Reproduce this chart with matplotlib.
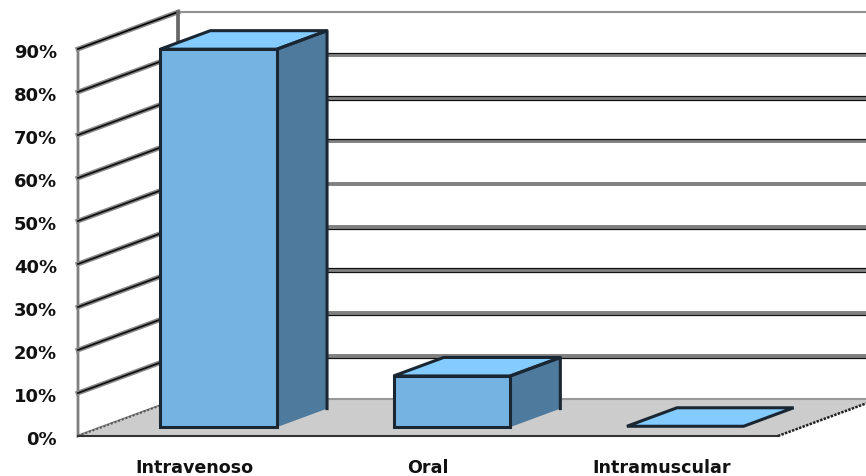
import matplotlib
matplotlib.use('Agg')
import matplotlib.pyplot as plt
from matplotlib.patches import Polygon

categories = ['Intravenoso', 'Oral', 'Intramuscular']
values = [87.9, 11.9, 0.2]
ticks = [0, 10, 20, 30, 40, 50, 60, 70, 80, 90]
tick_labels = ['0%', '10%', '20%', '30%', '40%', '50%', '60%', '70%', '80%', '90%']

# oblique projection: how far one full unit of depth moves a point
DEPTH_X = 0.429
DEPTH_Y = 8.6
BAR_WIDTH = 0.5
BAR_FRONT = 0.24
BAR_DEPTH = 0.5


def project(x, value, depth=0.0):
    return (x + depth * DEPTH_X, value + depth * DEPTH_Y)


def face(ax, corners, color, edge='#1a2733', lw=2.2, zorder=3):
    points = [project(*c) for c in corners]
    ax.add_patch(Polygon(points, closed=True, facecolor=color, edgecolor=edge,
                         linewidth=lw, joinstyle='miter', zorder=zorder))


def draw_bar(ax, center, value):
    left = center - BAR_WIDTH / 2
    right = center + BAR_WIDTH / 2
    d0 = BAR_FRONT
    d1 = BAR_FRONT + BAR_DEPTH
    if value > 1:
        face(ax, [(right, 0, d0), (right, 0, d1), (right, value, d1), (right, value, d0)], '#4e7a9e', edge='none', lw=0)
        ax.plot(*zip(project(right, value, d0), project(right, value, d1), project(right, 0, d1)),
                color='#1a2733', lw=2.2, zorder=3.1)
        face(ax, [(left, 0, d0), (right, 0, d0), (right, value, d0), (left, value, d0)], '#75b3e3')
    face(ax, [(left, value, d0), (right, value, d0), (right, value, d1), (left, value, d1)], '#84cbff')


fig = plt.figure(figsize=(8.66, 4.77), dpi=100)
ax = fig.add_axes([0, 0, 1, 1])
ax.set_xlim(-78 / 233.3, 788 / 233.3)
ax.set_ylim(-40 / 4.3, 437 / 4.3)
ax.axis('off')

n = len(categories)
top = ticks[-1]

# side wall and floor
face(ax, [(0, 0, 0), (0, 0, 1), (0, top, 1), (0, top, 0)], 'white', edge='#808080', lw=2.0, zorder=1)
face(ax, [(0, 0, 0), (0, 0, 1), (n, 0, 1), (n, 0, 0)], '#cccccc', edge='none', lw=0, zorder=1.5)

# which side of the back wall gridline gets the black hairline
hairlines = {10: [-0.5], 20: [-0.5], 30: [-0.5, 0.5], 40: [-0.5], 50: [], 60: [0.4], 70: [0.5, -0.5], 80: [0.4]}

# gridlines run along the side wall, then along the back wall
for t in ticks:
    x0, y0 = project(0, t, 0)
    x1, y1 = project(0, t, 1)
    x2 = 4
    if t == 0:
        ax.plot([x0, x1], [y0, y1], color='#555555', lw=1.4, ls=(0, (1, 1)), zorder=1.6)
        ax.plot([x1, x2], [y1, y1], color='#999999', lw=1.5, zorder=1.6)
    elif t == top:
        ax.plot([x0, x1], [y0, y1], color='#888888', lw=3.5, zorder=2)
        ax.plot([x0, x1], [y0, y1], color='black', lw=1.2, zorder=2)
        ax.plot([x1, x2], [y1, y1], color='#909090', lw=1.5, zorder=2)
    else:
        ax.plot([x0, x1], [y0, y1], color='#8a8a8a', lw=3.5, zorder=2)
        ax.plot([x0, x1], [y0, y1], color='#111111', lw=1.3, zorder=2)
        ax.plot([x1, x2], [y1, y1], color='#808080', lw=2.8, zorder=2)
        for off in hairlines[t]:
            ax.plot([x1, x2], [y1 + off, y1 + off], color='#111111', lw=0.9, zorder=2)

# corner of the two walls
x1, y1 = project(0, 0, 1)
ax.plot([x1, x1], [y1, project(0, top, 1)[1]], color='#666666', lw=2.6, zorder=2)

# front and right edges of the floor
ax.plot([0, n], [0, 0], color='#333333', lw=1.5, zorder=2.5)
ax.plot(*zip(project(n, 0, 0), project(n, 0, 1)), color='#222222', lw=1.8,
        ls=(0, (1, 0.5)), zorder=2.5)

for i, v in enumerate(values):
    draw_bar(ax, i + 0.5, v)

for t, label in zip(ticks, tick_labels):
    ax.annotate(label, xy=(0, t), xytext=(-21, -3), textcoords='offset pixels',
                ha='right', va='center', fontsize=13, fontweight='bold', color='#111111')

for i, name in enumerate(categories):
    ax.annotate(name, xy=(i + 0.5, 0), xytext=(0, -31), textcoords='offset pixels',
                ha='center', va='center', fontsize=12.6, fontweight='bold', color='#111111')

fig.savefig('out.png', dpi=100)
